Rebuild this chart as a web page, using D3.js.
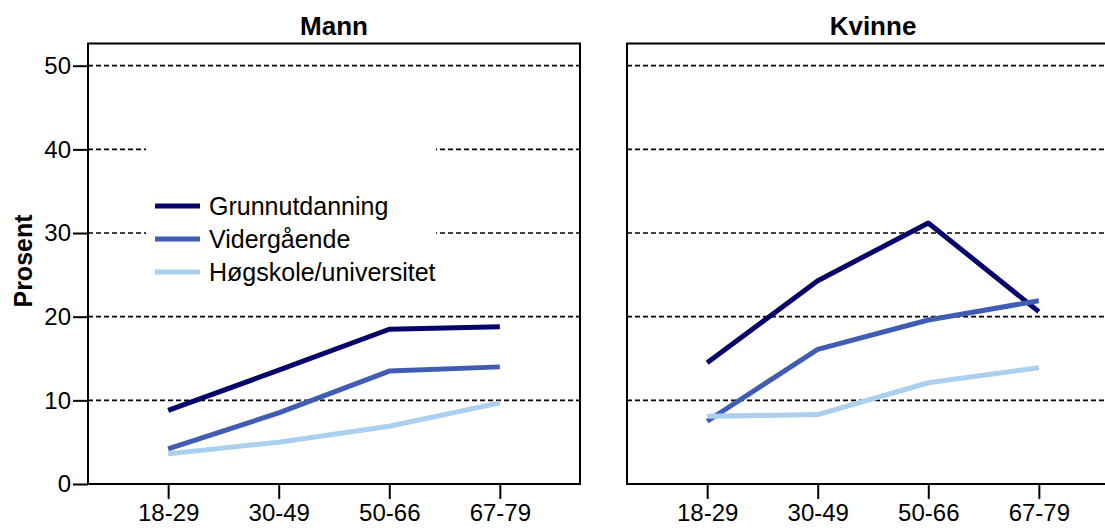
<!DOCTYPE html>
<html><head><meta charset="utf-8">
<script src="https://cdn.jsdelivr.net/npm/d3@7"></script>
<style>body{margin:0;background:#fff}svg{display:block}text{font-family:"Liberation Sans",Arial,sans-serif}</style>
</head><body><svg id="c" width="1105" height="528"></svg>
<script>
const categories = ["18-29","30-49","50-66","67-79"];
const panels = ["Mann","Kvinne"];
const seriesNames = ["Grunnutdanning","Vidergående","Høgskole/universitet"];
const seriesColors = ["#06066a","#3f5db2","#abcfee"];
const mannGrunn = [8.8, 13.6, 18.5, 18.8];
const mannVgs = [4.2, 8.5, 13.5, 14.0];
const mannHoy = [3.6, 5.0, 6.9, 9.7];
const kvinneGrunn = [14.5, 24.3, 31.2, 20.6];
const kvinneVgs = [7.5, 16.1, 19.6, 21.9];
const kvinneHoy = [8.1, 8.3, 12.1, 13.9];
const yTicks = [0,10,20,30,40,50];
const yLabel = "Prosent";

const panelData = [[mannGrunn, mannVgs, mannHoy],[kvinneGrunn, kvinneVgs, kvinneHoy]];
const svg = d3.select("#c");
const frameTop = 43.5, frameBottom = 484, pw = 492;
const lefts = [88, 627];
const y = d3.scaleLinear().domain([0,50]).range([frameBottom, 65.7]);

panels.forEach((name, pi) => {
  const x0 = lefts[pi];
  const x = d3.scalePoint().domain(categories).range([x0, x0+pw]).padding(0.725);
  const g = svg.append("g");
  g.selectAll("line.grid").data(yTicks.filter(t=>t>0)).join("line")
    .attr("x1", x0).attr("x2", x0+pw)
    .attr("y1", d=>y(d)).attr("y2", d=>y(d))
    .attr("stroke","#000").attr("stroke-width",1.7).attr("stroke-dasharray","5,3");
  g.append("text").attr("x", x0+pw/2).attr("y", 35).attr("text-anchor","middle")
    .attr("font-size",26).attr("font-weight","bold").text(name);
  const xa = g.append("g").attr("transform",`translate(0,${frameBottom})`)
    .call(d3.axisBottom(x).tickSize(15).tickSizeOuter(0).tickPadding(5));
  xa.select(".domain").remove();
  xa.selectAll(".tick line").attr("stroke-width",2);
  xa.selectAll(".tick text").attr("font-size",24).attr("font-family","Liberation Sans, Arial, sans-serif").attr("fill","#000");
  if (pi === 0) {
    const ya = g.append("g").attr("transform",`translate(${x0},0)`)
      .call(d3.axisLeft(y).tickValues(yTicks).tickSize(15).tickSizeOuter(0).tickPadding(2));
    ya.select(".domain").remove();
    ya.selectAll(".tick line").attr("stroke-width",2);
    ya.selectAll(".tick text").attr("font-size",24).attr("font-family","Liberation Sans, Arial, sans-serif").attr("fill","#000");
    g.append("rect").attr("x",146).attr("y",140).attr("width",290).attr("height",150).attr("fill","#fff");
  }
  const line = d3.line().x((d,i)=>x(categories[i])).y(d=>y(d));
  panelData[pi].forEach((vals, si) => {
    g.append("path").datum(vals).attr("d", line).attr("fill","none")
      .attr("stroke", seriesColors[si]).attr("stroke-width",5).attr("stroke-linejoin","round");
  });
  g.append("rect").attr("x",x0).attr("y",frameTop).attr("width",pw).attr("height",frameBottom-frameTop)
    .attr("fill","none").attr("stroke","#000").attr("stroke-width",2);
  if (pi === 0) {
    const clip = svg.append("clipPath").attr("id","lgclip");
    clip.append("rect").attr("x",146).attr("y",140).attr("width",290).attr("height",150);
    const lg = g.append("g").attr("clip-path","url(#lgclip)");
    seriesNames.forEach((s, si) => {
      const ly = 206 + si*33;
      lg.append("line").attr("x1",155).attr("x2",200).attr("y1",ly).attr("y2",ly)
        .attr("stroke",seriesColors[si]).attr("stroke-width",5);
      lg.append("text").attr("x",209).attr("y",ly+9).attr("font-size",25).text(s);
    });
  }
});
svg.append("text").attr("transform",`translate(32,261) rotate(-90)`).attr("text-anchor","middle")
  .attr("font-size",25).attr("font-weight","bold").text(yLabel);
</script></body></html>
